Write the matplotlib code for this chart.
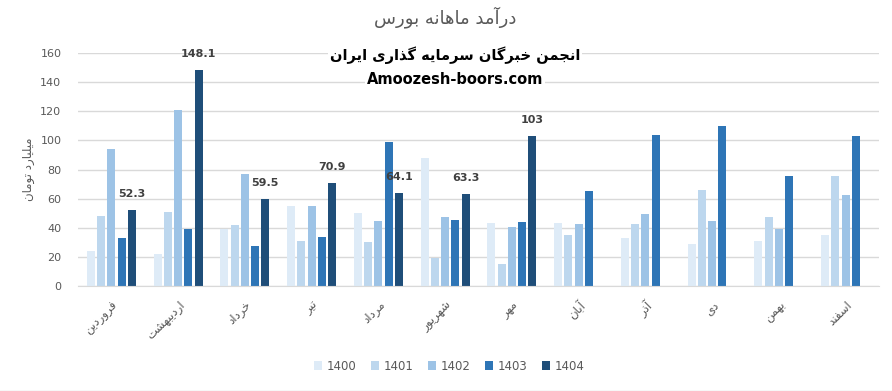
import numpy as np
import matplotlib
matplotlib.use("Agg")
import matplotlib.pyplot as plt
from matplotlib.patches import Patch
from matplotlib.lines import Line2D

### Data
months = ["فروردین", "اردیبهشت", "خرداد", "تیر", "مرداد", "شهریور",
          "مهر", "آبان", "آذر", "دی", "بهمن", "اسفند"]
years = ["1400", "1401", "1402", "1403", "1404"]

y1400 = [24.0, 21.9, 39.2, 55.1, 50.3, 87.6, 43.4, 43.4, 33.1, 29.0, 31.0, 35.2]
y1401 = [48.2, 51.0, 42.0, 30.9, 30.3, 19.3, 15.2, 35.2, 42.8, 66.2, 47.6, 75.2]
y1402 = [93.9, 120.9, 76.6, 55.1, 44.8, 47.6, 40.7, 42.8, 49.7, 44.8, 39.3, 62.8]
y1403 = [33.0, 39.2, 27.5, 33.7, 98.6, 45.5, 44.1, 65.5, 103.4, 109.7, 75.2, 102.8]
y1404 = [52.3, 148.1, 59.5, 70.9, 64.1, 63.3, 103, None, None, None, None, None]
labels_1404 = ["52.3", "148.1", "59.5", "70.9", "64.1", "63.3", "103"]

colors = ["#DEEBF7", "#BDD7EE", "#9DC3E6", "#2E75B6", "#1F4E79"]

title = "درآمد ماهانه بورس"
watermark = "انجمن خبرگان سرمایه گذاری ایران"
site = "Amoozesh-boors.com"
ylabel = "میلیارد تومان"

### minimal Persian shaping (matplotlib 3.10 has no text shaping)
FORMS = {  # isolated, final, initial, medial
    "ا": ("\uFE8D", "\uFE8E"), "آ": ("\uFE81", "\uFE82"),
    "ب": ("\uFE8F", "\uFE90", "\uFE91", "\uFE92"),
    "ت": ("\uFE95", "\uFE96", "\uFE97", "\uFE98"),
    "ج": ("\uFE9D", "\uFE9E", "\uFE9F", "\uFEA0"),
    "خ": ("\uFEA5", "\uFEA6", "\uFEA7", "\uFEA8"),
    "د": ("\uFEA9", "\uFEAA"), "ذ": ("\uFEAB", "\uFEAC"),
    "ر": ("\uFEAD", "\uFEAE"), "ز": ("\uFEAF", "\uFEB0"),
    "س": ("\uFEB1", "\uFEB2", "\uFEB3", "\uFEB4"),
    "ش": ("\uFEB5", "\uFEB6", "\uFEB7", "\uFEB8"),
    "ف": ("\uFED1", "\uFED2", "\uFED3", "\uFED4"),
    "ل": ("\uFEDD", "\uFEDE", "\uFEDF", "\uFEE0"),
    "م": ("\uFEE1", "\uFEE2", "\uFEE3", "\uFEE4"),
    "ن": ("\uFEE5", "\uFEE6", "\uFEE7", "\uFEE8"),
    "ه": ("\uFEE9", "\uFEEA", "\uFEEB", "\uFEEC"),
    "و": ("\uFEED", "\uFEEE"),
    "ی": ("\uFBFC", "\uFBFD", "\uFBFE", "\uFBFF"),
    "گ": ("\uFB92", "\uFB93", "\uFB94", "\uFB95"),
}

def fa(s):
    out = []
    for i, c in enumerate(s):
        if c not in FORMS:
            out.append(c)
            continue
        prev = s[i - 1] if i > 0 else ""
        nxt = s[i + 1] if i + 1 < len(s) else ""
        p = prev in FORMS and len(FORMS[prev]) == 4
        n = len(FORMS[c]) == 4 and nxt in FORMS
        f = FORMS[c]
        if p and n:
            out.append(f[3])
        elif p:
            out.append(f[1])
        elif n:
            out.append(f[2])
        else:
            out.append(f[0])
    return "".join(out)[::-1]

plt.rcParams["font.family"] = ["DejaVu Sans"]
grey = "#595959"

fig = plt.figure(figsize=(8.92, 3.91), dpi=100)
ax = fig.add_axes([78 / 892, 1 - 286 / 391, (879 - 78) / 892, (286 - 53) / 391])

x = np.arange(len(months))
step, width = 0.153, 0.12
series = [y1400, y1401, y1402, y1403, y1404]
for i, (vals, col) in enumerate(zip(series, colors)):
    v = np.array([np.nan if a is None else a for a in vals], dtype=float)
    ax.bar(x + (i - 2) * step, v, width=width, color=col, zorder=2, label=years[i])

for j, lab in enumerate(labels_1404):
    ax.annotate(lab, (x[j] + 2 * step, y1404[j]), xytext=(0, 8), textcoords="offset points",
                ha="center", va="bottom", fontsize=8, fontweight="bold", color="#404040",
                annotation_clip=False)

ax.set_xlim(-0.5, len(months) - 0.5)
ax.set_ylim(0, 160)
ax.set_yticks(np.arange(0, 161, 20))
ax.grid(axis="y", color="#D9D9D9", linewidth=1, zorder=0)
ax.set_axisbelow(True)
for s in ["top", "right", "left"]:
    ax.spines[s].set_visible(False)
ax.spines["bottom"].set_color("#D9D9D9")
ax.tick_params(axis="both", length=0, colors=grey, labelsize=8)
ax.tick_params(axis="y", pad=12)
ax.tick_params(axis="x", pad=9)
ax.set_xticks(x)
ax.set_xticklabels([fa(m) for m in months], rotation=45, ha="right", rotation_mode="anchor",
                   fontsize=8.5, color=grey)
ax.set_ylabel(fa(ylabel), fontsize=8.5, color=grey, labelpad=4)

fig.text(445 / 892, 1 - 17 / 391, fa(title), ha="center", va="center", fontsize=13, color=grey)
box = dict(facecolor="white", edgecolor="none", pad=1)
fig.text(455 / 892, 1 - 55 / 391, fa(watermark), ha="center", va="center", fontsize=10.5,
         fontweight="bold", color="black", bbox=box, zorder=5)
fig.text(455 / 892, 1 - 79 / 391, site, ha="center", va="center", fontsize=10.5,
         fontweight="bold", color="black", bbox=box, zorder=5)

handles = [Patch(facecolor=c, edgecolor="none") for c in colors]
leg = fig.legend(handles, years, loc="center", bbox_to_anchor=(449 / 892, 1 - 366 / 391), ncol=5,
                 frameon=False, fontsize=8.5, handlelength=0.7, handleheight=0.7,
                 handletextpad=0.4, columnspacing=1.2)
for t in leg.get_texts():
    t.set_color(grey)

fig.add_artist(Line2D([0, 1], [0.5 / 391, 0.5 / 391], transform=fig.transFigure, color="#D9D9D9", lw=1))

fig.savefig("out.png", dpi=100)
